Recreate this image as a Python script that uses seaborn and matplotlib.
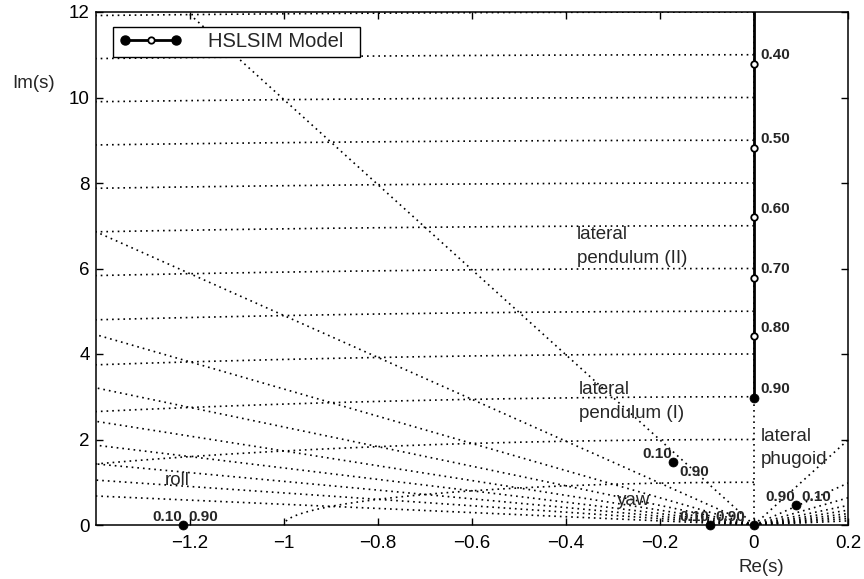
import numpy as np
import pandas as pd
import matplotlib
matplotlib.use("Agg")
import matplotlib.pyplot as plt
from matplotlib.lines import Line2D
import seaborn as sns

# HSLSIM root locus of the lateral pendulum (II) mode over the parameter sweep
hsl_param = ["0.30", "0.40", "0.50", "0.60", "0.70", "0.80", "0.90"]
hsl_re = [0.0, 0.0, 0.0, 0.0, 0.0, 0.0, 0.0]
hsl_im = [13.3, 10.79, 8.82, 7.20, 5.78, 4.41, 2.97]

# modes whose roots do not move between parameter 0.10 and 0.90
mode_names = ["roll", "yaw", "lateral pendulum (I)", "lateral phugoid", "spiral"]
mode_re = [-1.215, -0.093, -0.173, 0.09, 0.0]
mode_im = [0.0, 0.0, 1.47, 0.46, 0.0]
mode_left_tag = ["0.10", "0.10", "0.10", "0.90", ""]
mode_right_tag = ["0.90", "0.90", "0.90", "0.10", ""]

# region captions (y is the baseline of the last line)
caption_text = ["roll", "yaw", "lateral\npendulum (I)", "lateral\nphugoid", "lateral\npendulum (II)"]
caption_x = [-1.253, -0.292, -0.373, 0.015, -0.377]
caption_y = [0.93, 0.46, 2.51, 1.42, 6.13]

# s-plane grid: constant damping ratio rays and natural frequency arcs
zeta_values = [0.1, 0.2, 0.3, 0.4, 0.5, 0.6, 0.7, 0.8, 0.9]
wn_values = [1, 2, 3, 4, 5, 6, 7, 8, 9, 10, 11, 12]

x_ticks = [-1.2, -1.0, -0.8, -0.6, -0.4, -0.2, 0.0, 0.2]
x_tick_labels = ["\u22121.2", "\u22121", "\u22120.8", "\u22120.6", "\u22120.4", "\u22120.2", "0", "0.2"]
y_ticks = [0, 2, 4, 6, 8, 10, 12]

sns.set_style("ticks", {"xtick.direction": "in", "ytick.direction": "in",
                        "axes.edgecolor": "black", "axes.linewidth": 1.1})
plt.rcParams["font.family"] = ["Liberation Sans", "DejaVu Sans"]
plt.rcParams["lines.scale_dashes"] = True

fig = plt.figure(figsize=(8.64, 5.79), dpi=100)
W, H = 864, 579
ax = fig.add_axes([96 / W, 1 - 525 / H, 752 / W, 513 / H])

dotted = dict(color="black", lw=1.2, ls=(0, (1, 2.4)), zorder=1)

# damping-ratio rays on both sides of the imaginary axis
for z in zeta_values:
    slope = np.sqrt(1 - z ** 2) / z
    for side in (-1, 1):
        ax.plot([0, side * 2.0], [0, 2.0 * slope], **dotted)
ax.plot([0, 0], [0, 12.5], **dotted)

# natural-frequency arcs in the left half plane
t = np.linspace(np.pi / 2, np.pi, 600)
for wn in wn_values:
    ax.plot(wn * np.cos(t), wn * np.sin(t), **dotted)

# locus
locus = pd.DataFrame({"re": hsl_re, "im": hsl_im, "param": hsl_param})
sns.lineplot(data=locus, x="re", y="im", estimator=None, sort=False,
             color="black", lw=2.0, legend=False, ax=ax, zorder=3)
is_end = locus["param"].isin(["0.10", "0.90"])
sns.scatterplot(data=locus[~is_end], x="re", y="im", marker="o", s=22,
                facecolor="white", edgecolor="black", linewidth=1.3,
                legend=False, ax=ax, zorder=4)
sns.scatterplot(data=locus[is_end], x="re", y="im", marker="o", s=42,
                color="black", edgecolor="black", linewidth=0.5,
                legend=False, ax=ax, zorder=4)
for p, xr, yi in zip(hsl_param, hsl_re, hsl_im):
    ax.annotate(p, (xr, yi), xytext=(4.3, 6.2), textcoords="offset points",
                ha="left", va="center", fontsize=11, fontweight="bold", zorder=6)

# fixed roots
modes = pd.DataFrame({"mode": mode_names, "re": mode_re, "im": mode_im})
sns.scatterplot(data=modes, x="re", y="im", marker="o", s=42, color="black",
                edgecolor="black", linewidth=0.5, legend=False, ax=ax,
                zorder=5, clip_on=False)
right_offsets = {"lateral pendulum (I)": (5.0, -7.2)}
for name, xr, yi, lt, rt in zip(mode_names, mode_re, mode_im, mode_left_tag, mode_right_tag):
    if lt:
        ax.annotate(lt, (xr, yi), xytext=(-0.5, 5.8), textcoords="offset points",
                    ha="right", va="center", fontsize=11, fontweight="bold", zorder=6)
    if rt:
        ax.annotate(rt, (xr, yi), xytext=right_offsets.get(name, (3.6, 5.8)),
                    textcoords="offset points", ha="left", va="center",
                    fontsize=11, fontweight="bold", zorder=6)

for txt, cx, cy in zip(caption_text, caption_x, caption_y):
    ax.text(cx, cy, txt, ha="left", va="baseline", fontsize=13.5,
            linespacing=1.5, zorder=6)

ax.set_xlim(-1.4, 0.2)
ax.set_ylim(0, 12)
ax.set_xticks(x_ticks)
ax.set_xticklabels(x_tick_labels)
ax.set_yticks(y_ticks)
ax.set_xlabel("")
ax.set_ylabel("")
ax.tick_params(axis="both", which="both", direction="in", top=True, right=True,
               length=5, width=1.0, labelsize=13.5, colors="black")
ax.tick_params(axis="x", pad=7.0)
ax.tick_params(axis="y", pad=4.5)
for sp in ax.spines.values():
    sp.set_visible(True)
    sp.set_color("black")
    sp.set_linewidth(1.1)

fig.text(12 / W, 1 - 84 / H, "Im(s)", ha="left", va="center", fontsize=13.5)
fig.text(738 / W, 1 - 567 / H, "Re(s)", ha="left", va="center", fontsize=13.5)


class LocusLegendHandler:
    """Solid line with filled end markers and a hollow middle marker."""

    def legend_artist(self, legend, orig_handle, fontsize, handlebox):
        x0, y0 = handlebox.xdescent, handlebox.ydescent
        w, h = handlebox.width, handlebox.height
        ym = y0 + h / 2
        tr = handlebox.get_transform()
        inset = 0.104 * w
        xs = [x0 + inset, x0 + w / 2, x0 + w - inset]
        line = Line2D([xs[0], xs[2]], [ym, ym], color="black", lw=2.0, transform=tr)
        ends = Line2D([xs[0], xs[2]], [ym, ym], ls="none", marker="o", ms=6.5,
                      mfc="black", mec="black", transform=tr)
        mid = Line2D([xs[1]], [ym], ls="none", marker="o", ms=4.6, mfc="white",
                     mec="black", mew=1.3, transform=tr)
        for a in (line, ends, mid):
            handlebox.add_artist(a)
        return line


proxy = Line2D([], [], color="black")
leg = ax.legend([proxy], ["HSLSIM Model\u00a0\u00a0"],
                handler_map={proxy: LocusLegendHandler()},
                loc="upper left", bbox_to_anchor=(0.0222, 0.9713), borderaxespad=0,
                fontsize=14.5, handlelength=3.2, handletextpad=1.25, borderpad=0.28,
                fancybox=False, framealpha=1, edgecolor="black")
leg.get_frame().set_linewidth(1.0)
leg.set_zorder(10)

fig.savefig("out.png", dpi=100)
